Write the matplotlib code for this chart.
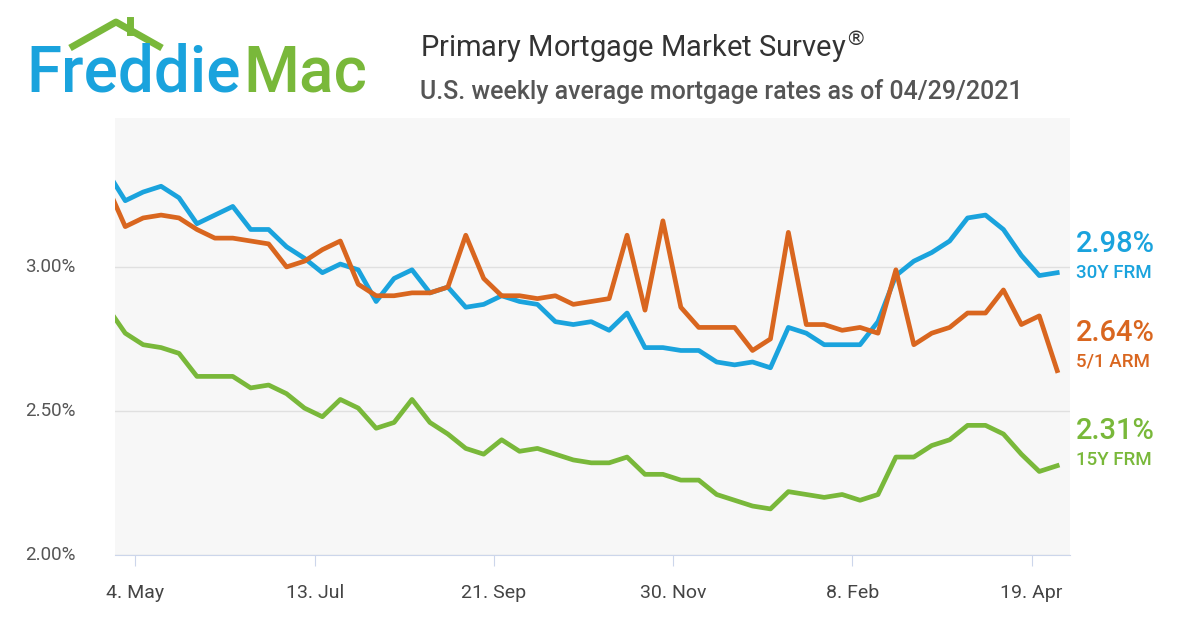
import matplotlib
matplotlib.use("Agg")
import matplotlib.pyplot as plt
import matplotlib.transforms as mtrans
import datetime as dt

plt.rcParams["font.family"] = "Roboto"

# weekly survey dates, 23 Apr 2020 .. 29 Apr 2021
start = dt.date(2020, 4, 23)
dates = [start + dt.timedelta(weeks=i) for i in range(54)]

frm30 = [3.33, 3.23, 3.26, 3.28, 3.24, 3.15, 3.18, 3.21, 3.13, 3.13, 3.07, 3.03,
         2.98, 3.01, 2.99, 2.88, 2.96, 2.99, 2.91, 2.93, 2.86, 2.87, 2.90, 2.88,
         2.87, 2.81, 2.80, 2.81, 2.78, 2.84, 2.72, 2.72, 2.71, 2.71, 2.67, 2.66,
         2.67, 2.65, 2.79, 2.77, 2.73, 2.73, 2.73, 2.81, 2.97, 3.02, 3.05, 3.09,
         3.17, 3.18, 3.13, 3.04, 2.97, 2.98]
arm51 = [3.28, 3.14, 3.17, 3.18, 3.17, 3.13, 3.10, 3.10, 3.09, 3.08, 3.00, 3.02,
         3.06, 3.09, 2.94, 2.90, 2.90, 2.91, 2.91, 2.93, 3.11, 2.96, 2.90, 2.90,
         2.89, 2.90, 2.87, 2.88, 2.89, 3.11, 2.85, 3.16, 2.86, 2.79, 2.79, 2.79,
         2.71, 2.75, 3.12, 2.80, 2.80, 2.78, 2.79, 2.77, 2.99, 2.73, 2.77, 2.79,
         2.84, 2.84, 2.92, 2.80, 2.83, 2.64]
frm15 = [2.86, 2.77, 2.73, 2.72, 2.70, 2.62, 2.62, 2.62, 2.58, 2.59, 2.56, 2.51,
         2.48, 2.54, 2.51, 2.44, 2.46, 2.54, 2.46, 2.42, 2.37, 2.35, 2.40, 2.36,
         2.37, 2.35, 2.33, 2.32, 2.32, 2.34, 2.28, 2.28, 2.26, 2.26, 2.21, 2.19,
         2.17, 2.16, 2.22, 2.21, 2.20, 2.21, 2.19, 2.21, 2.34, 2.34, 2.38, 2.40,
         2.45, 2.45, 2.42, 2.35, 2.29, 2.31]

series = [("30Y FRM", frm30, "#1aa3dd"),
          ("5/1 ARM", arm51, "#d9661f"),
          ("15Y FRM", frm15, "#79b83a")]
label_y = [(3.08, 2.98), (2.77, 2.67), (2.43, 2.33)]

fig = plt.figure(figsize=(12, 6.3), dpi=100)
ax = fig.add_axes([115/1200, 75/630, 955/1200, 437/630])
ax.set_facecolor("#f7f7f7")

for name, vals, col in series:
    ax.plot(dates, vals, color=col, lw=3.4, solid_joinstyle="round")

ax.set_xlim(dt.date(2020, 4, 26), dt.date(2021, 5, 4))
ax.set_ylim(2.0, 3.517)
ax.set_yticks([2.0, 2.5, 3.0])
ax.set_yticklabels([])
ax.grid(axis="y", color="#e0e0e0", lw=1)
ax.tick_params(axis="y", length=0)
ytr = mtrans.blended_transform_factory(fig.transFigure, ax.transData)
for v in [2.0, 2.5, 3.0]:
    ax.text(25/1200, v, f"{v:.2f}%", transform=ytr, fontsize=13.5,
            color="#555555", va="center", ha="left")

xt = [dt.date(2020, 5, 4), dt.date(2020, 7, 13), dt.date(2020, 9, 21),
      dt.date(2020, 11, 30), dt.date(2021, 2, 8), dt.date(2021, 4, 19)]
ax.set_xticks(xt)
ax.set_xticklabels([f"{d.day}. {d.strftime('%b')}" for d in xt], fontsize=14, color="#444444")
ax.tick_params(axis="x", length=8, color="#ccd6eb", pad=13)
for s in ["top", "right", "left"]:
    ax.spines[s].set_visible(False)
ax.spines["bottom"].set_color("#ccd6eb")

# right-hand labels
rtr = mtrans.blended_transform_factory(ax.transAxes, ax.transData)
for (name, vals, col), (yb, ys) in zip(series, label_y):
    ax.text(1.006, yb, f"{vals[-1]:.2f}%", transform=rtr, fontsize=21,
            color=col, ha="left", va="center", fontweight="medium", clip_on=False)
    ax.text(1.006, ys, name, transform=rtr, fontsize=13.5,
            color=col, ha="left", va="center", fontweight="medium", clip_on=False)

# titles
fig.text(420/1200, 1 - 48/630, "Primary Mortgage Market Survey$^{®}$", fontsize=21, color="#333333", va="center")
fig.text(420/1200, 1 - 92/630, "U.S. weekly average mortgage rates as of 04/29/2021", fontsize=18,
         color="#555555", va="center", fontweight="medium")

# logo
fig.text(26/1200, 1 - 74/630, "Freddie", fontsize=46, color="#1aa3dd", va="center", fontweight="medium")
fig.text(243/1200, 1 - 74/630, "Mac", fontsize=46, color="#79b83a", va="center", fontweight="medium")
roof = fig.add_axes([0, 0, 1, 1], facecolor="none")
roof.set_xlim(0, 1200); roof.set_ylim(630, 0); roof.axis("off")
roof.plot([70, 116, 162], [48, 22, 48], color="#79b83a", lw=5, solid_capstyle="butt")
roof.plot([130, 130], [32, 20], color="#79b83a", lw=5)

fig.savefig("out.png", dpi=100)
